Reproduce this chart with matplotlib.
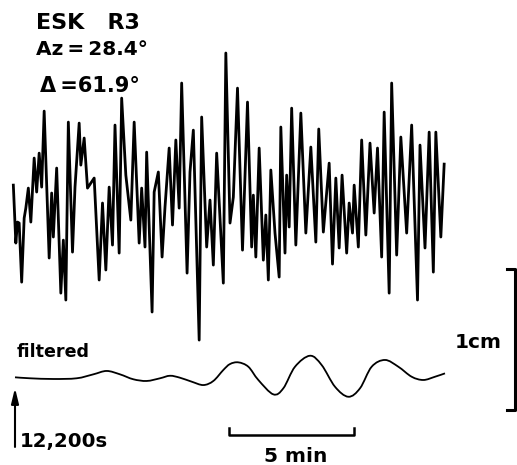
import numpy as np
import matplotlib
matplotlib.use("Agg")
import matplotlib.pyplot as plt
from matplotlib.path import Path
from matplotlib.patches import PathPatch

# ESK R3 record, time in s after 12,200 s, deflection in mm
raw_t = [-4, 2, 6, 10, 16, 22, 26, 32, 38, 46, 52, 58, 64, 70, 82, 88, 92, 100,
         110, 116, 122, 128, 138, 144, 154, 158, 166, 174, 190, 202, 210, 218,
         226, 234, 240, 250, 256, 266, 278, 286, 298, 304, 312, 316, 329, 334,
         344, 353, 360, 370, 378, 386, 394, 400, 413, 420, 428, 442, 448, 460,
         468, 476, 484, 500, 506, 516, 524, 534, 546, 558, 568, 572, 578, 586,
         596, 602, 608, 614, 624, 634, 638, 648, 652, 658, 664, 674, 686, 698,
         710, 722, 729, 740, 754, 762, 770, 778, 785, 796, 802, 810, 814, 824,
         832, 842, 852, 862, 870, 880, 886, 898, 904, 916, 926, 940, 952, 966,
         972, 984, 994, 1004, 1010, 1022, 1030]
raw_mm = [1.06, -3.05, -1.56, -1.63, -5.82, -1.28, -0.57, 0.85, -1.56, 2.98,
          0.57, 3.33, 0.92, 6.31, -4.11, 0.50, -2.62, 2.27, -6.60, -2.84,
          -7.09, 5.53, -3.69, 0.92, 5.46, 2.48, 4.40, 0.85, 1.56, -5.67,
          -0.21, -4.96, 0.92, -3.19, 5.32, -3.76, 7.23, 1.77, -1.42, 5.53,
          -3.05, 0.85, -3.33, 3.40, -7.94, 0.57, 1.99, -4.04, -0.50, 3.69,
          -1.77, 4.26, -0.57, 8.30, -5.18, 1.99, 4.96, -9.93, 5.89, -3.33,
          0.00, -4.61, 3.33, -5.89, 10.43, -1.63, 0.21, 7.94, -3.55, 6.95,
          -3.33, 0.35, -4.04, 3.69, -4.26, -1.06, -5.67, 2.13, -2.34, -5.46,
          5.18, -3.76, 1.77, -1.91, 6.52, -3.19, 6.17, -2.34, 3.76, -2.98,
          5.04, -2.27, 2.62, -4.54, 1.56, -3.40, 1.77, -3.76, -0.21, -2.34,
          1.06, -3.33, 4.26, -2.48, 4.04, -0.92, 3.69, -4.04, 6.24, -6.60,
          8.30, -3.90, 4.47, -2.34, 5.32, -7.09, 3.90, -3.40, 4.82, -5.11,
          4.82, -2.62, 2.55]

filt_t = [0, 36, 92, 148, 188, 220, 252, 284, 316, 348, 372, 396, 424, 452,
          476, 500, 516, 536, 560, 584, 620, 644, 672, 708, 736, 768, 800, 828,
          856, 888, 920, 952, 980, 1008, 1032]
filt_mm = [0.05, -0.02, -0.07, -0.02, 0.26, 0.50, 0.26, -0.09, -0.21, -0.02,
           0.16, 0.02, -0.26, -0.50, -0.21, 0.57, 0.99, 1.11, 0.80, -0.14,
           -1.16, -0.73, 0.80, 1.58, 0.92, -0.62, -1.33, -0.73, 0.80, 1.28,
           0.80, 0.09, -0.14, 0.09, 0.33]

raw_offset = 12.62      # mm above the filtered trace
bar_start, bar_len = 514, 300    # 5 min time bar (s)
cm_t, cm_low, cm_len = 1200, -2.27, 10.0   # 1 cm amplitude bar


def smooth_path(xs, ys):
    # pen-like curve through the read points (Catmull-Rom as cubic Beziers)
    p = np.column_stack([xs, ys]).astype(float)
    pad = np.vstack([p[0], p, p[-1]])
    verts = [p[0]]
    codes = [Path.MOVETO]
    for i in range(1, len(pad) - 2):
        p0, p1, p2, p3 = pad[i - 1], pad[i], pad[i + 1], pad[i + 2]
        verts += [p1 + (p2 - p0) / 6, p2 - (p3 - p1) / 6, p2]
        codes += [Path.CURVE4] * 3
    return Path(verts, codes)


fig = plt.figure(figsize=(5.17, 4.65), dpi=100)
ax = fig.add_axes([0, 0, 1, 1])
ax.set_xlim(-36, 1204.8)
ax.set_ylim(-6.17, 26.81)
ax.axis("off")

ax.plot(raw_t, np.array(raw_mm) + raw_offset, color="black", lw=2.0,
        solid_joinstyle="round")
ax.add_patch(PathPatch(smooth_path(filt_t, filt_mm), fill=False,
                       edgecolor="black", lw=1.3))

# 5 min bar
ax.plot([bar_start, bar_start, bar_start + bar_len, bar_start + bar_len],
        [-3.55, -4.04, -4.04, -3.55], color="black", lw=1.8)
# 1 cm bar
ax.plot([cm_t - 20, cm_t, cm_t, cm_t - 20],
        [cm_low + cm_len, cm_low + cm_len, cm_low, cm_low],
        color="black", lw=2.2, clip_on=False)
# start arrow
ax.annotate("", xy=(0, -0.71), xytext=(0, -4.89),
            arrowprops=dict(arrowstyle="-|>,head_length=0.9,head_width=0.22",
                            color="black", lw=1.5, shrinkA=0, shrinkB=0))


def label(x, y, s, size=16, ha="left"):
    fig.text(x / 517, 1 - y / 465, s, fontsize=size, ha=ha, va="baseline",
             family="DejaVu Sans", weight="bold", color="black")


label(36, 29, "ESK   R3", 16)
label(36, 55, "Az\u2009=\u200928.4\u00b0", 14.5)
label(40, 92, "\u0394\u2009=61.9\u00b0", 15)
label(17, 357, "filtered", 12.6)
label(455, 348, "1cm", 14.5)
label(20, 447, "12,200s", 14.2)
label(296, 462, "5 min", 14.5, ha="center")

fig.savefig("out.png", dpi=100)
